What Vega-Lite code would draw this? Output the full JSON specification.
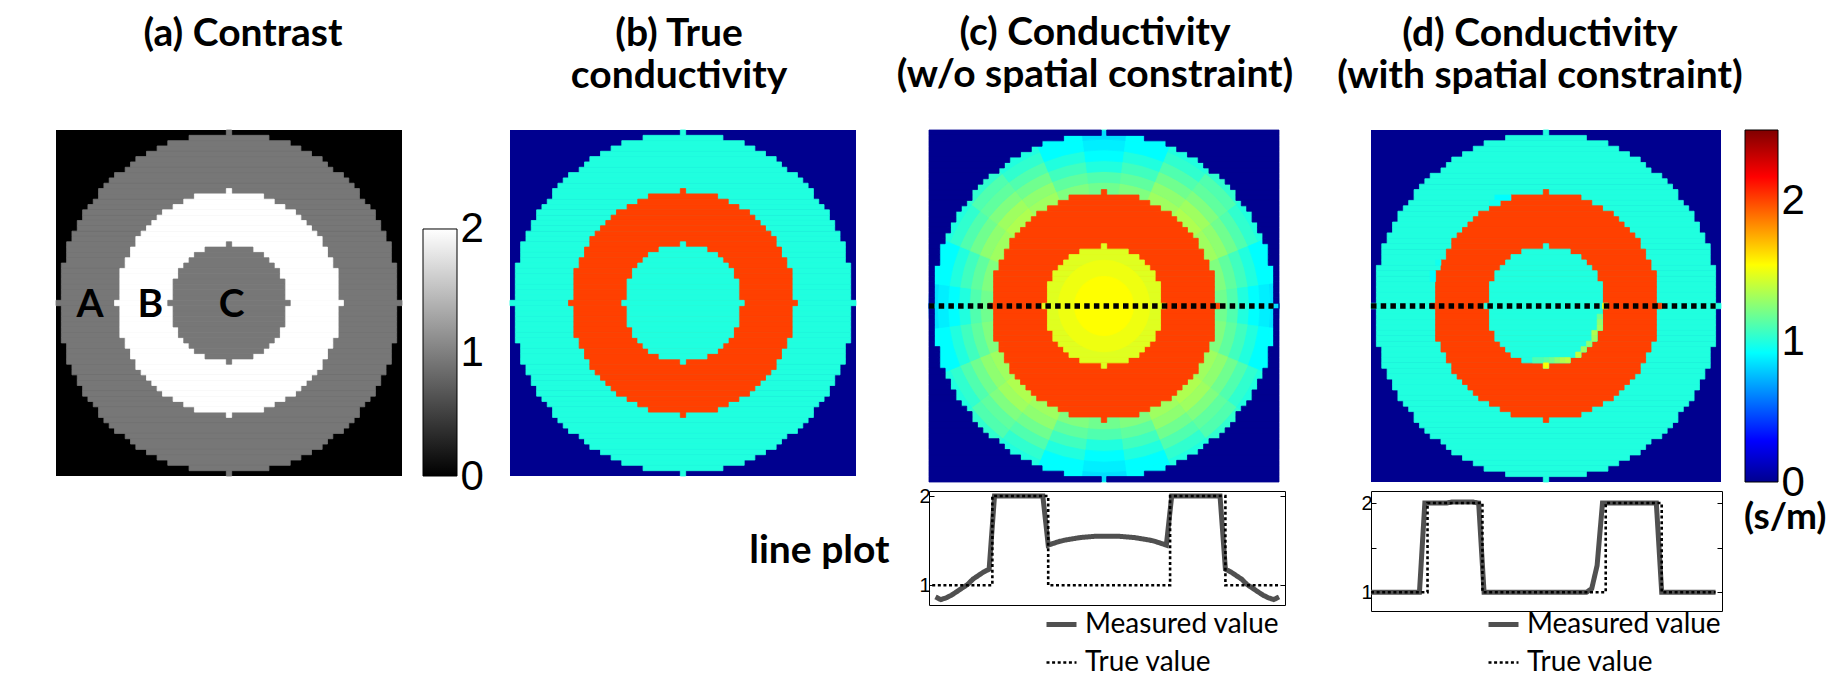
{
"$schema":"https://vega.github.io/schema/vega-lite/v6.json",
"background":"white",
"padding":{"left":55,"top":14,"right":5,"bottom":5},
"columns":6,"align":"each","bounds":"flush","spacing":{"row":9,"column":0},
"resolve":{"scale":{"color":"independent","stroke":"independent","strokeDash":"independent","strokeWidth":"independent"},"legend":{"color":"independent","strokeDash":"independent","strokeWidth":"independent"}},
"datasets":{
"bg":[{"x0":-32.5,"x1":32.5}],
"dline":[{"x0":-32.5,"x1":31.5,"y":0}],
"labels":[{"t":"A","x":-26.1,"y":0},{"t":"B","x":-14.8,"y":0},{"t":"C","x":0.5,"y":0}],
"cbg":[{"lo":0,"hi":2}],
"cbj":[{"lo":0,"hi":2.5}],
"anom":[{"x0":10.5,"x1":11.5,"y":0,"v":1.55},{"x0":9.5,"x1":10.5,"y":2,"v":1.2},{"x0":9.5,"x1":10.5,"y":3,"v":1.25},{"x0":9.5,"x1":10.5,"y":4,"v":1.3},{"x0":8.5,"x1":9.5,"y":5,"v":1.35},{"x0":8.5,"x1":9.5,"y":6,"v":1.3},{"x0":7.5,"x1":8.5,"y":7,"v":1.25},{"x0":6.5,"x1":7.5,"y":8,"v":1.3},{"x0":5.5,"x1":6.5,"y":9,"v":1.4},{"x0":3.5,"x1":4.5,"y":10,"v":1.4},{"x0":2.5,"x1":3.5,"y":10,"v":1.35},{"x0":1.5,"x1":2.5,"y":10,"v":1.25},{"x0":0.5,"x1":1.5,"y":10,"v":1.2},{"x0":-0.5,"x1":0.5,"y":10,"v":1.15},{"x0":-2.5,"x1":-0.5,"y":10,"v":1.1},{"x0":-0.5,"x1":0.5,"y":11,"v":1.55},{"x0":-9.5,"x1":-6.5,"y":-20,"v":0.92},{"x0":-10.5,"x1":-8.5,"y":-19,"v":0.95},{"x0":-21.5,"x1":-20.5,"y":-6,"v":0.92},{"x0":-21.5,"x1":-20.5,"y":-5,"v":0.92},{"x0":-20.5,"x1":-19.5,"y":-8,"v":0.95}],
"discs":[
{"g":"A","y":-32,"a":-0.5,"b":0.5,"v":1},{"g":"A","y":-31,"a":-7.5,"b":7.5,"v":1},{"g":"A","y":-30,"a":-11.5,"b":11.5,"v":1},{"g":"A","y":-29,"a":-13.5,"b":13.5,"v":1},{"g":"A","y":-28,"a":-15.5,"b":15.5,"v":1},{"g":"A","y":-27,"a":-17.5,"b":17.5,"v":1},{"g":"A","y":-26,"a":-18.5,"b":18.5,"v":1},{"g":"A","y":-25,"a":-19.5,"b":19.5,"v":1},{"g":"A","y":-24,"a":-21.5,"b":21.5,"v":1},{"g":"A","y":-23,"a":-22.5,"b":22.5,"v":1},{"g":"A","y":-22,"a":-23.5,"b":23.5,"v":1},{"g":"A","y":-21,"a":-24.5,"b":24.5,"v":1},{"g":"A","y":-20,"a":-24.5,"b":24.5,"v":1},{"g":"A","y":-19,"a":-25.5,"b":25.5,"v":1},{"g":"A","y":-18,"a":-26.5,"b":26.5,"v":1},{"g":"A","y":-17,"a":-27.5,"b":27.5,"v":1},{"g":"A","y":-16,"a":-27.5,"b":27.5,"v":1},{"g":"A","y":-15,"a":-28.5,"b":28.5,"v":1},{"g":"A","y":-14,"a":-28.5,"b":28.5,"v":1},{"g":"A","y":-13,"a":-29.5,"b":29.5,"v":1},{"g":"A","y":-12,"a":-29.5,"b":29.5,"v":1},{"g":"A","y":-11,"a":-30.5,"b":30.5,"v":1},{"g":"A","y":-10,"a":-30.5,"b":30.5,"v":1},{"g":"A","y":-9,"a":-30.5,"b":30.5,"v":1},{"g":"A","y":-8,"a":-30.5,"b":30.5,"v":1},{"g":"A","y":-7,"a":-31.5,"b":31.5,"v":1},{"g":"A","y":-6,"a":-31.5,"b":31.5,"v":1},{"g":"A","y":-5,"a":-31.5,"b":31.5,"v":1},{"g":"A","y":-4,"a":-31.5,"b":31.5,"v":1},{"g":"A","y":-3,"a":-31.5,"b":31.5,"v":1},{"g":"A","y":-2,"a":-31.5,"b":31.5,"v":1},{"g":"A","y":-1,"a":-31.5,"b":31.5,"v":1},{"g":"A","y":0,"a":-32.5,"b":32.5,"v":1},{"g":"A","y":1,"a":-31.5,"b":31.5,"v":1},{"g":"A","y":2,"a":-31.5,"b":31.5,"v":1},{"g":"A","y":3,"a":-31.5,"b":31.5,"v":1},{"g":"A","y":4,"a":-31.5,"b":31.5,"v":1},{"g":"A","y":5,"a":-31.5,"b":31.5,"v":1},{"g":"A","y":6,"a":-31.5,"b":31.5,"v":1},{"g":"A","y":7,"a":-31.5,"b":31.5,"v":1},{"g":"A","y":8,"a":-30.5,"b":30.5,"v":1},{"g":"A","y":9,"a":-30.5,"b":30.5,"v":1},{"g":"A","y":10,"a":-30.5,"b":30.5,"v":1},{"g":"A","y":11,"a":-30.5,"b":30.5,"v":1},{"g":"A","y":12,"a":-29.5,"b":29.5,"v":1},{"g":"A","y":13,"a":-29.5,"b":29.5,"v":1},{"g":"A","y":14,"a":-28.5,"b":28.5,"v":1},{"g":"A","y":15,"a":-28.5,"b":28.5,"v":1},{"g":"A","y":16,"a":-27.5,"b":27.5,"v":1},{"g":"A","y":17,"a":-27.5,"b":27.5,"v":1},{"g":"A","y":18,"a":-26.5,"b":26.5,"v":1},{"g":"A","y":19,"a":-25.5,"b":25.5,"v":1},{"g":"A","y":20,"a":-24.5,"b":24.5,"v":1},{"g":"A","y":21,"a":-24.5,"b":24.5,"v":1},{"g":"A","y":22,"a":-23.5,"b":23.5,"v":1},{"g":"A","y":23,"a":-22.5,"b":22.5,"v":1},{"g":"A","y":24,"a":-21.5,"b":21.5,"v":1},{"g":"A","y":25,"a":-19.5,"b":19.5,"v":1},{"g":"A","y":26,"a":-18.5,"b":18.5,"v":1},{"g":"A","y":27,"a":-17.5,"b":17.5,"v":1},{"g":"A","y":28,"a":-15.5,"b":15.5,"v":1},{"g":"A","y":29,"a":-13.5,"b":13.5,"v":1},{"g":"A","y":30,"a":-11.5,"b":11.5,"v":1},{"g":"A","y":31,"a":-7.5,"b":7.5,"v":1},{"g":"A","y":32,"a":-0.5,"b":0.5,"v":1},
{"g":"B","y":-21,"a":-0.5,"b":0.5,"v":2},{"g":"B","y":-20,"a":-6.5,"b":6.5,"v":2},{"g":"B","y":-19,"a":-8.5,"b":8.5,"v":2},{"g":"B","y":-18,"a":-10.5,"b":10.5,"v":2},{"g":"B","y":-17,"a":-12.5,"b":12.5,"v":2},{"g":"B","y":-16,"a":-13.5,"b":13.5,"v":2},{"g":"B","y":-15,"a":-14.5,"b":14.5,"v":2},{"g":"B","y":-14,"a":-15.5,"b":15.5,"v":2},{"g":"B","y":-13,"a":-16.5,"b":16.5,"v":2},{"g":"B","y":-12,"a":-17.5,"b":17.5,"v":2},{"g":"B","y":-11,"a":-17.5,"b":17.5,"v":2},{"g":"B","y":-10,"a":-18.5,"b":18.5,"v":2},{"g":"B","y":-9,"a":-18.5,"b":18.5,"v":2},{"g":"B","y":-8,"a":-19.5,"b":19.5,"v":2},{"g":"B","y":-7,"a":-19.5,"b":19.5,"v":2},{"g":"B","y":-6,"a":-20.5,"b":20.5,"v":2},{"g":"B","y":-5,"a":-20.5,"b":20.5,"v":2},{"g":"B","y":-4,"a":-20.5,"b":20.5,"v":2},{"g":"B","y":-3,"a":-20.5,"b":20.5,"v":2},{"g":"B","y":-2,"a":-20.5,"b":20.5,"v":2},{"g":"B","y":-1,"a":-20.5,"b":20.5,"v":2},{"g":"B","y":0,"a":-21.5,"b":21.5,"v":2},{"g":"B","y":1,"a":-20.5,"b":20.5,"v":2},{"g":"B","y":2,"a":-20.5,"b":20.5,"v":2},{"g":"B","y":3,"a":-20.5,"b":20.5,"v":2},{"g":"B","y":4,"a":-20.5,"b":20.5,"v":2},{"g":"B","y":5,"a":-20.5,"b":20.5,"v":2},{"g":"B","y":6,"a":-20.5,"b":20.5,"v":2},{"g":"B","y":7,"a":-19.5,"b":19.5,"v":2},{"g":"B","y":8,"a":-19.5,"b":19.5,"v":2},{"g":"B","y":9,"a":-18.5,"b":18.5,"v":2},{"g":"B","y":10,"a":-18.5,"b":18.5,"v":2},{"g":"B","y":11,"a":-17.5,"b":17.5,"v":2},{"g":"B","y":12,"a":-17.5,"b":17.5,"v":2},{"g":"B","y":13,"a":-16.5,"b":16.5,"v":2},{"g":"B","y":14,"a":-15.5,"b":15.5,"v":2},{"g":"B","y":15,"a":-14.5,"b":14.5,"v":2},{"g":"B","y":16,"a":-13.5,"b":13.5,"v":2},{"g":"B","y":17,"a":-12.5,"b":12.5,"v":2},{"g":"B","y":18,"a":-10.5,"b":10.5,"v":2},{"g":"B","y":19,"a":-8.5,"b":8.5,"v":2},{"g":"B","y":20,"a":-6.5,"b":6.5,"v":2},{"g":"B","y":21,"a":-0.5,"b":0.5,"v":2},
{"g":"C","y":-11,"a":-0.5,"b":0.5,"v":1},{"g":"C","y":-10,"a":-4.5,"b":4.5,"v":1},{"g":"C","y":-9,"a":-6.5,"b":6.5,"v":1},{"g":"C","y":-8,"a":-7.5,"b":7.5,"v":1},{"g":"C","y":-7,"a":-8.5,"b":8.5,"v":1},{"g":"C","y":-6,"a":-9.5,"b":9.5,"v":1},{"g":"C","y":-5,"a":-9.5,"b":9.5,"v":1},{"g":"C","y":-4,"a":-10.5,"b":10.5,"v":1},{"g":"C","y":-3,"a":-10.5,"b":10.5,"v":1},{"g":"C","y":-2,"a":-10.5,"b":10.5,"v":1},{"g":"C","y":-1,"a":-10.5,"b":10.5,"v":1},{"g":"C","y":0,"a":-11.5,"b":11.5,"v":1},{"g":"C","y":1,"a":-10.5,"b":10.5,"v":1},{"g":"C","y":2,"a":-10.5,"b":10.5,"v":1},{"g":"C","y":3,"a":-10.5,"b":10.5,"v":1},{"g":"C","y":4,"a":-10.5,"b":10.5,"v":1},{"g":"C","y":5,"a":-9.5,"b":9.5,"v":1},{"g":"C","y":6,"a":-9.5,"b":9.5,"v":1},{"g":"C","y":7,"a":-8.5,"b":8.5,"v":1},{"g":"C","y":8,"a":-7.5,"b":7.5,"v":1},{"g":"C","y":9,"a":-6.5,"b":6.5,"v":1},{"g":"C","y":10,"a":-4.5,"b":4.5,"v":1},{"g":"C","y":11,"a":-0.5,"b":0.5,"v":1}
],
"arcsA":[
{"t0":-7.5,"t1":7.5,"r0":20,"r1":23,"v":1.18},{"t0":7.5,"t1":22.5,"r0":20,"r1":23,"v":1.23},{"t0":22.5,"t1":37.5,"r0":20,"r1":23,"v":1.32},{"t0":37.5,"t1":52.5,"r0":20,"r1":23,"v":1.36},{"t0":52.5,"t1":67.5,"r0":20,"r1":23,"v":1.32},{"t0":67.5,"t1":82.5,"r0":20,"r1":23,"v":1.23},{"t0":82.5,"t1":97.5,"r0":20,"r1":23,"v":1.18},{"t0":97.5,"t1":112.5,"r0":20,"r1":23,"v":1.23},{"t0":112.5,"t1":127.5,"r0":20,"r1":23,"v":1.32},{"t0":127.5,"t1":142.5,"r0":20,"r1":23,"v":1.36},{"t0":142.5,"t1":157.5,"r0":20,"r1":23,"v":1.32},{"t0":157.5,"t1":172.5,"r0":20,"r1":23,"v":1.23},{"t0":172.5,"t1":187.5,"r0":20,"r1":23,"v":1.18},{"t0":187.5,"t1":202.5,"r0":20,"r1":23,"v":1.23},{"t0":202.5,"t1":217.5,"r0":20,"r1":23,"v":1.32},{"t0":217.5,"t1":232.5,"r0":20,"r1":23,"v":1.36},{"t0":232.5,"t1":247.5,"r0":20,"r1":23,"v":1.32},{"t0":247.5,"t1":262.5,"r0":20,"r1":23,"v":1.23},{"t0":262.5,"t1":277.5,"r0":20,"r1":23,"v":1.18},{"t0":277.5,"t1":292.5,"r0":20,"r1":23,"v":1.23},{"t0":292.5,"t1":307.5,"r0":20,"r1":23,"v":1.32},{"t0":307.5,"t1":322.5,"r0":20,"r1":23,"v":1.36},{"t0":322.5,"t1":337.5,"r0":20,"r1":23,"v":1.32},{"t0":337.5,"t1":352.5,"r0":20,"r1":23,"v":1.23},
{"t0":-7.5,"t1":7.5,"r0":23,"r1":25,"v":1.11},{"t0":7.5,"t1":22.5,"r0":23,"r1":25,"v":1.16},{"t0":22.5,"t1":37.5,"r0":23,"r1":25,"v":1.26},{"t0":37.5,"t1":52.5,"r0":23,"r1":25,"v":1.31},{"t0":52.5,"t1":67.5,"r0":23,"r1":25,"v":1.26},{"t0":67.5,"t1":82.5,"r0":23,"r1":25,"v":1.16},{"t0":82.5,"t1":97.5,"r0":23,"r1":25,"v":1.11},{"t0":97.5,"t1":112.5,"r0":23,"r1":25,"v":1.16},{"t0":112.5,"t1":127.5,"r0":23,"r1":25,"v":1.26},{"t0":127.5,"t1":142.5,"r0":23,"r1":25,"v":1.31},{"t0":142.5,"t1":157.5,"r0":23,"r1":25,"v":1.26},{"t0":157.5,"t1":172.5,"r0":23,"r1":25,"v":1.16},{"t0":172.5,"t1":187.5,"r0":23,"r1":25,"v":1.11},{"t0":187.5,"t1":202.5,"r0":23,"r1":25,"v":1.16},{"t0":202.5,"t1":217.5,"r0":23,"r1":25,"v":1.26},{"t0":217.5,"t1":232.5,"r0":23,"r1":25,"v":1.31},{"t0":232.5,"t1":247.5,"r0":23,"r1":25,"v":1.26},{"t0":247.5,"t1":262.5,"r0":23,"r1":25,"v":1.16},{"t0":262.5,"t1":277.5,"r0":23,"r1":25,"v":1.11},{"t0":277.5,"t1":292.5,"r0":23,"r1":25,"v":1.16},{"t0":292.5,"t1":307.5,"r0":23,"r1":25,"v":1.26},{"t0":307.5,"t1":322.5,"r0":23,"r1":25,"v":1.31},{"t0":322.5,"t1":337.5,"r0":23,"r1":25,"v":1.26},{"t0":337.5,"t1":352.5,"r0":23,"r1":25,"v":1.16},
{"t0":-7.5,"t1":7.5,"r0":25,"r1":27,"v":1.01},{"t0":7.5,"t1":22.5,"r0":25,"r1":27,"v":1.07},{"t0":22.5,"t1":37.5,"r0":25,"r1":27,"v":1.18},{"t0":37.5,"t1":52.5,"r0":25,"r1":27,"v":1.24},{"t0":52.5,"t1":67.5,"r0":25,"r1":27,"v":1.18},{"t0":67.5,"t1":82.5,"r0":25,"r1":27,"v":1.07},{"t0":82.5,"t1":97.5,"r0":25,"r1":27,"v":1.01},{"t0":97.5,"t1":112.5,"r0":25,"r1":27,"v":1.07},{"t0":112.5,"t1":127.5,"r0":25,"r1":27,"v":1.18},{"t0":127.5,"t1":142.5,"r0":25,"r1":27,"v":1.24},{"t0":142.5,"t1":157.5,"r0":25,"r1":27,"v":1.18},{"t0":157.5,"t1":172.5,"r0":25,"r1":27,"v":1.07},{"t0":172.5,"t1":187.5,"r0":25,"r1":27,"v":1.01},{"t0":187.5,"t1":202.5,"r0":25,"r1":27,"v":1.07},{"t0":202.5,"t1":217.5,"r0":25,"r1":27,"v":1.18},{"t0":217.5,"t1":232.5,"r0":25,"r1":27,"v":1.24},{"t0":232.5,"t1":247.5,"r0":25,"r1":27,"v":1.18},{"t0":247.5,"t1":262.5,"r0":25,"r1":27,"v":1.07},{"t0":262.5,"t1":277.5,"r0":25,"r1":27,"v":1.01},{"t0":277.5,"t1":292.5,"r0":25,"r1":27,"v":1.07},{"t0":292.5,"t1":307.5,"r0":25,"r1":27,"v":1.18},{"t0":307.5,"t1":322.5,"r0":25,"r1":27,"v":1.24},{"t0":322.5,"t1":337.5,"r0":25,"r1":27,"v":1.18},{"t0":337.5,"t1":352.5,"r0":25,"r1":27,"v":1.07},
{"t0":-7.5,"t1":7.5,"r0":27,"r1":29,"v":0.93},{"t0":7.5,"t1":22.5,"r0":27,"r1":29,"v":0.99},{"t0":22.5,"t1":37.5,"r0":27,"r1":29,"v":1.11},{"t0":37.5,"t1":52.5,"r0":27,"r1":29,"v":1.17},{"t0":52.5,"t1":67.5,"r0":27,"r1":29,"v":1.11},{"t0":67.5,"t1":82.5,"r0":27,"r1":29,"v":0.99},{"t0":82.5,"t1":97.5,"r0":27,"r1":29,"v":0.93},{"t0":97.5,"t1":112.5,"r0":27,"r1":29,"v":0.99},{"t0":112.5,"t1":127.5,"r0":27,"r1":29,"v":1.11},{"t0":127.5,"t1":142.5,"r0":27,"r1":29,"v":1.17},{"t0":142.5,"t1":157.5,"r0":27,"r1":29,"v":1.11},{"t0":157.5,"t1":172.5,"r0":27,"r1":29,"v":0.99},{"t0":172.5,"t1":187.5,"r0":27,"r1":29,"v":0.93},{"t0":187.5,"t1":202.5,"r0":27,"r1":29,"v":0.99},{"t0":202.5,"t1":217.5,"r0":27,"r1":29,"v":1.11},{"t0":217.5,"t1":232.5,"r0":27,"r1":29,"v":1.17},{"t0":232.5,"t1":247.5,"r0":27,"r1":29,"v":1.11},{"t0":247.5,"t1":262.5,"r0":27,"r1":29,"v":0.99},{"t0":262.5,"t1":277.5,"r0":27,"r1":29,"v":0.93},{"t0":277.5,"t1":292.5,"r0":27,"r1":29,"v":0.99},{"t0":292.5,"t1":307.5,"r0":27,"r1":29,"v":1.11},{"t0":307.5,"t1":322.5,"r0":27,"r1":29,"v":1.17},{"t0":322.5,"t1":337.5,"r0":27,"r1":29,"v":1.11},{"t0":337.5,"t1":352.5,"r0":27,"r1":29,"v":0.99},
{"t0":-7.5,"t1":7.5,"r0":29,"r1":31,"v":0.86},{"t0":7.5,"t1":22.5,"r0":29,"r1":31,"v":0.92},{"t0":22.5,"t1":37.5,"r0":29,"r1":31,"v":1.04},{"t0":37.5,"t1":52.5,"r0":29,"r1":31,"v":1.1},{"t0":52.5,"t1":67.5,"r0":29,"r1":31,"v":1.04},{"t0":67.5,"t1":82.5,"r0":29,"r1":31,"v":0.92},{"t0":82.5,"t1":97.5,"r0":29,"r1":31,"v":0.86},{"t0":97.5,"t1":112.5,"r0":29,"r1":31,"v":0.92},{"t0":112.5,"t1":127.5,"r0":29,"r1":31,"v":1.04},{"t0":127.5,"t1":142.5,"r0":29,"r1":31,"v":1.1},{"t0":142.5,"t1":157.5,"r0":29,"r1":31,"v":1.04},{"t0":157.5,"t1":172.5,"r0":29,"r1":31,"v":0.92},{"t0":172.5,"t1":187.5,"r0":29,"r1":31,"v":0.86},{"t0":187.5,"t1":202.5,"r0":29,"r1":31,"v":0.92},{"t0":202.5,"t1":217.5,"r0":29,"r1":31,"v":1.04},{"t0":217.5,"t1":232.5,"r0":29,"r1":31,"v":1.1},{"t0":232.5,"t1":247.5,"r0":29,"r1":31,"v":1.04},{"t0":247.5,"t1":262.5,"r0":29,"r1":31,"v":0.92},{"t0":262.5,"t1":277.5,"r0":29,"r1":31,"v":0.86},{"t0":277.5,"t1":292.5,"r0":29,"r1":31,"v":0.92},{"t0":292.5,"t1":307.5,"r0":29,"r1":31,"v":1.04},{"t0":307.5,"t1":322.5,"r0":29,"r1":31,"v":1.1},{"t0":322.5,"t1":337.5,"r0":29,"r1":31,"v":1.04},{"t0":337.5,"t1":352.5,"r0":29,"r1":31,"v":0.92},
{"t0":-7.5,"t1":7.5,"r0":31,"r1":32.5,"v":0.85},{"t0":7.5,"t1":22.5,"r0":31,"r1":32.5,"v":0.9},{"t0":22.5,"t1":37.5,"r0":31,"r1":32.5,"v":1.0},{"t0":37.5,"t1":52.5,"r0":31,"r1":32.5,"v":1.05},{"t0":52.5,"t1":67.5,"r0":31,"r1":32.5,"v":1.0},{"t0":67.5,"t1":82.5,"r0":31,"r1":32.5,"v":0.9},{"t0":82.5,"t1":97.5,"r0":31,"r1":32.5,"v":0.85},{"t0":97.5,"t1":112.5,"r0":31,"r1":32.5,"v":0.9},{"t0":112.5,"t1":127.5,"r0":31,"r1":32.5,"v":1.0},{"t0":127.5,"t1":142.5,"r0":31,"r1":32.5,"v":1.05},{"t0":142.5,"t1":157.5,"r0":31,"r1":32.5,"v":1.0},{"t0":157.5,"t1":172.5,"r0":31,"r1":32.5,"v":0.9},{"t0":172.5,"t1":187.5,"r0":31,"r1":32.5,"v":0.85},{"t0":187.5,"t1":202.5,"r0":31,"r1":32.5,"v":0.9},{"t0":202.5,"t1":217.5,"r0":31,"r1":32.5,"v":1.0},{"t0":217.5,"t1":232.5,"r0":31,"r1":32.5,"v":1.05},{"t0":232.5,"t1":247.5,"r0":31,"r1":32.5,"v":1.0},{"t0":247.5,"t1":262.5,"r0":31,"r1":32.5,"v":0.9},{"t0":262.5,"t1":277.5,"r0":31,"r1":32.5,"v":0.85},{"t0":277.5,"t1":292.5,"r0":31,"r1":32.5,"v":0.9},{"t0":292.5,"t1":307.5,"r0":31,"r1":32.5,"v":1.0},{"t0":307.5,"t1":322.5,"r0":31,"r1":32.5,"v":1.05},{"t0":322.5,"t1":337.5,"r0":31,"r1":32.5,"v":1.0},{"t0":337.5,"t1":352.5,"r0":31,"r1":32.5,"v":0.9}
],
"arcsC":[{"t0":0,"t1":360,"r0":5.5,"r1":8.5,"v":1.51},{"t0":0,"t1":360,"r0":0,"r1":5.5,"v":1.54}],
"mc":[{"x":0,"y":0.87},{"x":1,"y":0.84},{"x":2,"y":0.86},{"x":3,"y":0.89},{"x":4,"y":0.93},{"x":5,"y":0.97},{"x":6,"y":1.01},{"x":7,"y":1.07},{"x":8,"y":1.11},{"x":9,"y":1.15},{"x":10,"y":1.18},{"x":11,"y":2},{"x":12,"y":2},{"x":13,"y":2},{"x":14,"y":2},{"x":15,"y":2},{"x":16,"y":2},{"x":17,"y":2},{"x":18,"y":2},{"x":19,"y":2},{"x":20,"y":2},{"x":21,"y":1.45},{"x":22,"y":1.47},{"x":23,"y":1.49},{"x":24,"y":1.505},{"x":25,"y":1.515},{"x":26,"y":1.525},{"x":27,"y":1.535},{"x":28,"y":1.54},{"x":29,"y":1.545},{"x":30,"y":1.55},{"x":31,"y":1.55},{"x":32,"y":1.55},{"x":33,"y":1.55},{"x":34,"y":1.55},{"x":35,"y":1.545},{"x":36,"y":1.54},{"x":37,"y":1.535},{"x":38,"y":1.525},{"x":39,"y":1.515},{"x":40,"y":1.505},{"x":41,"y":1.49},{"x":42,"y":1.47},{"x":43,"y":1.45},{"x":44,"y":2},{"x":45,"y":2},{"x":46,"y":2},{"x":47,"y":2},{"x":48,"y":2},{"x":49,"y":2},{"x":50,"y":2},{"x":51,"y":2},{"x":52,"y":2},{"x":53,"y":2},{"x":54,"y":1.18},{"x":55,"y":1.15},{"x":56,"y":1.11},{"x":57,"y":1.07},{"x":58,"y":1.01},{"x":59,"y":0.97},{"x":60,"y":0.93},{"x":61,"y":0.89},{"x":62,"y":0.86},{"x":63,"y":0.84},{"x":64,"y":0.87}],
"tc":[{"x":-0.6,"y":1},{"x":10.6,"y":1},{"x":10.6,"y":2},{"x":21,"y":2},{"x":21,"y":1},{"x":43.7,"y":1},{"x":43.7,"y":2},{"x":54,"y":2},{"x":54,"y":1},{"x":64.3,"y":1}],
"md":[{"x":0,"y":1},{"x":1,"y":1},{"x":2,"y":1},{"x":3,"y":1},{"x":4,"y":1},{"x":5,"y":1},{"x":6,"y":1},{"x":7,"y":1},{"x":8,"y":1},{"x":9,"y":1},{"x":10,"y":2},{"x":11,"y":2},{"x":12,"y":2},{"x":13,"y":2},{"x":14,"y":2},{"x":15,"y":2.01},{"x":16,"y":2.01},{"x":17,"y":2.01},{"x":18,"y":2.01},{"x":19,"y":2.01},{"x":20,"y":2},{"x":21,"y":1},{"x":22,"y":1},{"x":23,"y":1},{"x":24,"y":1},{"x":25,"y":1},{"x":26,"y":1},{"x":27,"y":1},{"x":28,"y":1},{"x":29,"y":1},{"x":30,"y":1},{"x":31,"y":1},{"x":32,"y":1},{"x":33,"y":1},{"x":34,"y":1},{"x":35,"y":1},{"x":36,"y":1},{"x":37,"y":1},{"x":38,"y":1},{"x":39,"y":1},{"x":40,"y":1},{"x":41,"y":1.04},{"x":42,"y":1.3},{"x":43,"y":2},{"x":44,"y":2},{"x":45,"y":2},{"x":46,"y":2},{"x":47,"y":2},{"x":48,"y":2},{"x":49,"y":2},{"x":50,"y":2},{"x":51,"y":2},{"x":52,"y":2},{"x":53,"y":2},{"x":54,"y":1},{"x":55,"y":1},{"x":56,"y":1},{"x":57,"y":1},{"x":58,"y":1},{"x":59,"y":1},{"x":60,"y":1},{"x":61,"y":1},{"x":62,"y":1},{"x":63,"y":1},{"x":64,"y":1}],
"td":[{"x":0,"y":1},{"x":10.5,"y":1},{"x":10.5,"y":2},{"x":20.7,"y":2},{"x":20.7,"y":1},{"x":43.6,"y":1},{"x":43.6,"y":2},{"x":54,"y":2},{"x":54,"y":1},{"x":64,"y":1}]
},
"concat":[
{"width":367,"height":346,"title":{"text":["(a) Contrast",""],"dx":3.5},
 "layer":[
 {"data":{"name":"bg"},"mark":{"type":"rect","fill":"#000000"},"encoding":{"x":{"field":"x0","type":"quantitative","scale":{"domain":[-32.5,36.444],"nice":false,"zero":false},"axis":null},"x2":{"field":"x1"}}},
 {"data":{"name":"discs"},"mark":{"type":"rect","strokeWidth":0.8},"encoding":{"x":{"field":"a","type":"quantitative"},"x2":{"field":"b"},"y":{"field":"y","type":"ordinal","scale":{"domain":[-32,-31,-30,-29,-28,-27,-26,-25,-24,-23,-22,-21,-20,-19,-18,-17,-16,-15,-14,-13,-12,-11,-10,-9,-8,-7,-6,-5,-4,-3,-2,-1,0,1,2,3,4,5,6,7,8,9,10,11,12,13,14,15,16,17,18,19,20,21,22,23,24,25,26,27,28,29,30,31,32],"paddingInner":0,"paddingOuter":0},"axis":null},"color":{"field":"v","type":"quantitative","scale":{"domain":[0,2],"range":["#000000","#ffffff"]},"legend":null},"stroke":{"field":"v","type":"quantitative","scale":{"domain":[0,2],"range":["#000000","#ffffff"]},"legend":null}}},
 {"data":{"name":"labels"},"mark":{"type":"text","font":"Lato","fontWeight":"bold","fontSize":39,"color":"black","dy":2},"encoding":{"x":{"field":"x","type":"quantitative"},"y":{"field":"y","type":"ordinal","bandPosition":0.5,"axis":null},"text":{"field":"t"}}}
 ]},
{"width":34,"height":346,"data":{"name":"cbg"},
 "mark":{"type":"rect","fill":{"gradient":"linear","x1":0,"y1":1,"x2":0,"y2":0,"stops":[{"offset":0,"color":"#000000"},{"offset":1,"color":"#ffffff"}]},"stroke":"black","strokeWidth":1},
 "encoding":{"y":{"field":"lo","type":"quantitative","scale":{"domain":[0,2.8016],"nice":false,"zero":false},"axis":{"orient":"right","values":[0,1,2],"labelFontSize":42,"labelPadding":3,"ticks":false,"title":null}},"y2":{"field":"hi"}}},
{"width":472,"height":346,"title":{"text":["(b) True","conductivity"],"dx":-14},
 "layer":[
 {"data":{"name":"bg"},"mark":{"type":"rect","fill":"#00008F"},"encoding":{"x":{"field":"x0","type":"quantitative","scale":{"domain":[-42.4566,46.2139],"nice":false,"zero":false},"axis":null},"x2":{"field":"x1"}}},
 {"data":{"name":"discs"},"mark":{"type":"rect","strokeWidth":0.8},"encoding":{"x":{"field":"a","type":"quantitative"},"x2":{"field":"b"},"y":{"field":"y","type":"ordinal","scale":{"domain":[-32,-31,-30,-29,-28,-27,-26,-25,-24,-23,-22,-21,-20,-19,-18,-17,-16,-15,-14,-13,-12,-11,-10,-9,-8,-7,-6,-5,-4,-3,-2,-1,0,1,2,3,4,5,6,7,8,9,10,11,12,13,14,15,16,17,18,19,20,21,22,23,24,25,26,27,28,29,30,31,32],"paddingInner":0,"paddingOuter":0},"axis":null},"color":{"field":"v","type":"quantitative","scale":{"type":"quantize","domain":[0,2.5],"range":"heatmap","nice":false},"legend":null},"stroke":{"field":"v","type":"quantitative","scale":{"type":"quantize","domain":[0,2.5],"range":"heatmap","nice":false},"legend":null}}}
 ]},
{"width":442,"height":352,"title":{"text":["(c) Conductivity","(w/o spatial constraint)"],"dx":-55},
 "resolve":{"scale":{"color":"shared","stroke":"shared"}},
 "layer":[
 {"data":{"name":"bg"},"mark":{"type":"rect","fill":"#00008F"},"encoding":{"x":{"field":"x0","type":"quantitative","scale":{"domain":[-32.5,49.586],"nice":false,"zero":false},"axis":null},"x2":{"field":"x1"}}},
 {"data":{"name":"discs"},"transform":[{"filter":"datum.g == 'A'"}],"mark":{"type":"rect","strokeWidth":0.8},"encoding":{"x":{"field":"a","type":"quantitative"},"x2":{"field":"b"},"y":{"field":"y","type":"ordinal","scale":{"domain":[-32,-31,-30,-29,-28,-27,-26,-25,-24,-23,-22,-21,-20,-19,-18,-17,-16,-15,-14,-13,-12,-11,-10,-9,-8,-7,-6,-5,-4,-3,-2,-1,0,1,2,3,4,5,6,7,8,9,10,11,12,13,14,15,16,17,18,19,20,21,22,23,24,25,26,27,28,29,30,31,32],"paddingInner":0,"paddingOuter":0},"axis":null},"color":{"field":"v","type":"quantitative","scale":{"type":"quantize","domain":[0,2.5],"range":"heatmap","nice":false},"legend":null},"stroke":{"field":"v","type":"quantitative","scale":{"type":"quantize","domain":[0,2.5],"range":"heatmap","nice":false},"legend":null}}},
 {"data":{"name":"arcsA"},"mark":{"type":"arc","strokeWidth":0.8},"encoding":{"x":{"datum":0,"type":"quantitative"},"theta":{"field":"t0","type":"quantitative","scale":{"domain":[0,360],"range":[0,6.283185307179586]},"stack":null},"theta2":{"field":"t1"},"radius":{"field":"r0","type":"quantitative","scale":{"type":"linear","domain":[0,32.5],"range":[0,175],"zero":true}},"radius2":{"field":"r1"},"color":{"field":"v","type":"quantitative","scale":{"type":"quantize","domain":[0,2.5],"range":"heatmap","nice":false},"legend":null},"stroke":{"field":"v","type":"quantitative","scale":{"type":"quantize","domain":[0,2.5],"range":"heatmap","nice":false},"legend":null}}},
 {"data":{"name":"discs"},"transform":[{"filter":"datum.g == 'A'"}],"mark":{"type":"rect","fill":"#00008F","stroke":"#00008F","strokeWidth":0.8},"encoding":{"x":{"field":"a","type":"quantitative"},"x2":{"datum":-32.5},"y":{"field":"y","type":"ordinal","axis":null}}},
 {"data":{"name":"discs"},"transform":[{"filter":"datum.g == 'A'"}],"mark":{"type":"rect","fill":"#00008F","stroke":"#00008F","strokeWidth":0.8},"encoding":{"x":{"field":"b","type":"quantitative"},"x2":{"datum":32.5},"y":{"field":"y","type":"ordinal","axis":null}}},
 {"data":{"name":"discs"},"transform":[{"filter":"datum.g == 'B'"}],"mark":{"type":"rect","strokeWidth":0.8},"encoding":{"x":{"field":"a","type":"quantitative"},"x2":{"field":"b"},"y":{"field":"y","type":"ordinal","axis":null},"color":{"field":"v","type":"quantitative","scale":{"type":"quantize","domain":[0,2.5],"range":"heatmap","nice":false},"legend":null},"stroke":{"field":"v","type":"quantitative","scale":{"type":"quantize","domain":[0,2.5],"range":"heatmap","nice":false},"legend":null}}},
 {"data":{"name":"discs"},"transform":[{"filter":"datum.g == 'C'"}],"mark":{"type":"rect","strokeWidth":0.8},"encoding":{"x":{"field":"a","type":"quantitative"},"x2":{"field":"b"},"y":{"field":"y","type":"ordinal","axis":null},"color":{"datum":1.45,"type":"quantitative","scale":{"type":"quantize","domain":[0,2.5],"range":"heatmap","nice":false},"legend":null},"stroke":{"datum":1.45,"type":"quantitative","scale":{"type":"quantize","domain":[0,2.5],"range":"heatmap","nice":false},"legend":null}}},
 {"data":{"name":"arcsC"},"mark":{"type":"arc","strokeWidth":0.8},"encoding":{"x":{"datum":0,"type":"quantitative"},"theta":{"field":"t0","type":"quantitative","stack":null},"theta2":{"field":"t1"},"radius":{"field":"r0","type":"quantitative"},"radius2":{"field":"r1"},"color":{"field":"v","type":"quantitative","scale":{"type":"quantize","domain":[0,2.5],"range":"heatmap","nice":false},"legend":null},"stroke":{"field":"v","type":"quantitative","scale":{"type":"quantize","domain":[0,2.5],"range":"heatmap","nice":false},"legend":null}}},
 {"data":{"name":"dline"},"mark":{"type":"rule","color":"black","strokeWidth":5.5,"strokeDash":[5.5,4.2]},"encoding":{"x":{"field":"x0","type":"quantitative"},"x2":{"field":"x1"},"y":{"field":"y","type":"ordinal","bandPosition":0.5,"axis":null}}}
 ]},
{"width":374,"height":352,"title":{"text":["(d) Conductivity","(with spatial constraint)"],"dx":-18},
 "resolve":{"scale":{"color":"shared","stroke":"shared"}},
 "layer":[
 {"data":{"name":"bg"},"mark":{"type":"rect","fill":"#00008F"},"encoding":{"x":{"field":"x0","type":"quantitative","scale":{"domain":[-32.5,36.957],"nice":false,"zero":false},"axis":null},"x2":{"field":"x1"}}},
 {"data":{"name":"discs"},"mark":{"type":"rect","strokeWidth":0.8},"encoding":{"x":{"field":"a","type":"quantitative"},"x2":{"field":"b"},"y":{"field":"y","type":"ordinal","scale":{"domain":[-32,-31,-30,-29,-28,-27,-26,-25,-24,-23,-22,-21,-20,-19,-18,-17,-16,-15,-14,-13,-12,-11,-10,-9,-8,-7,-6,-5,-4,-3,-2,-1,0,1,2,3,4,5,6,7,8,9,10,11,12,13,14,15,16,17,18,19,20,21,22,23,24,25,26,27,28,29,30,31,32],"paddingInner":0,"paddingOuter":0},"axis":null},"color":{"field":"v","type":"quantitative","scale":{"type":"quantize","domain":[0,2.5],"range":"heatmap","nice":false},"legend":null},"stroke":{"field":"v","type":"quantitative","scale":{"type":"quantize","domain":[0,2.5],"range":"heatmap","nice":false},"legend":null}}},
 {"data":{"name":"anom"},"mark":{"type":"rect","strokeWidth":0.6},"encoding":{"x":{"field":"x0","type":"quantitative"},"x2":{"field":"x1"},"y":{"field":"y","type":"ordinal","axis":null},"color":{"field":"v","type":"quantitative","scale":{"type":"quantize","domain":[0,2.5],"range":"heatmap","nice":false},"legend":null},"stroke":{"field":"v","type":"quantitative","scale":{"type":"quantize","domain":[0,2.5],"range":"heatmap","nice":false},"legend":null}}},
 {"data":{"name":"dline"},"mark":{"type":"rule","color":"black","strokeWidth":5.5,"strokeDash":[5.5,4.2]},"encoding":{"x":{"field":"x0","type":"quantitative"},"x2":{"field":"x1"},"y":{"field":"y","type":"ordinal","bandPosition":0.5,"axis":null}}}
 ]},
{"width":33,"height":352,"data":{"name":"cbj"},
 "title":{"text":"(s/m)","orient":"bottom","anchor":"start","frame":"group","offset":-3,"baseline":"top","fontSize":37,"dx":-1},
 "mark":{"type":"rect","fill":{"gradient":"linear","x1":0,"y1":1,"x2":0,"y2":0,"stops":[{"offset":0,"color":"#00008F"},{"offset":0.117,"color":"#0000FF"},{"offset":0.367,"color":"#00FFFF"},{"offset":0.617,"color":"#FFFF00"},{"offset":0.867,"color":"#FF0000"},{"offset":1,"color":"#800000"}]},"stroke":"black","strokeWidth":1},
 "encoding":{"y":{"field":"lo","type":"quantitative","scale":{"domain":[0,2.5],"nice":false,"zero":false},"axis":{"orient":"right","values":[0,1,2],"labelFontSize":42,"labelPadding":3,"ticks":false,"title":null}},"y2":{"field":"hi"}}},
{"width":1,"height":1,"data":{"values":[{"p":0}]},"mark":{"type":"rect","opacity":0},"encoding":{}},
{"width":1,"height":1,"data":{"values":[{"p":0}]},"mark":{"type":"rect","opacity":0},"encoding":{}},
{"width":1,"height":1,"data":{"values":[{"p":0}]},"mark":{"type":"rect","opacity":0},"encoding":{}},
{"width":356,"height":114,"view":{"stroke":"black","strokeWidth":1},
 "layer":[
 {"data":{"name":"mc"},"mark":{"type":"line"},"encoding":{"x":{"field":"x","type":"quantitative","scale":{"domain":[-1.2,65.1],"nice":false,"zero":false},"axis":null},"y":{"field":"y","type":"quantitative","scale":{"domain":[0.7794,2.056],"nice":false,"zero":false},"axis":{"values":[1,2],"format":"d","tickSize":-5,"tickColor":"black","labelPadding":4,"labelFontSize":20,"title":"line plot","titleAngle":0,"titleAlign":"right","titleBaseline":"alphabetic","titleX":-40,"titleY":71.7,"titleFont":"Lato","titleFontSize":39,"titleFontWeight":"bold","titleColor":"black"}},
  "color":{"datum":"Measured value","type":"nominal","scale":{"domain":["Measured value","True value"],"range":["#505050","#000000"]},"legend":{"title":null}},
  "strokeDash":{"datum":"Measured value","type":"nominal","scale":{"domain":["Measured value","True value"],"range":[[1,0],[3,2.6]]},"legend":{"title":null}},
  "strokeWidth":{"datum":"Measured value","type":"ordinal","scale":{"domain":["Measured value","True value"],"range":[5,2.6]},"legend":{"title":null}}}},
 {"data":{"name":"tc"},"mark":{"type":"line"},"encoding":{"x":{"field":"x","type":"quantitative"},"y":{"field":"y","type":"quantitative","axis":{"orient":"right","values":[1,2],"labels":false,"tickSize":-5,"tickColor":"black","title":null}},
  "color":{"datum":"True value","type":"nominal"},"strokeDash":{"datum":"True value","type":"nominal"},"strokeWidth":{"datum":"True value","type":"ordinal"}}}
 ],"resolve":{"axis":{"y":"independent"}}},
{"width":351,"height":120,"view":{"stroke":"black","strokeWidth":1},
 "layer":[
 {"data":{"name":"md"},"mark":{"type":"line"},"encoding":{"x":{"field":"x","type":"quantitative","scale":{"domain":[0,65.2],"nice":false,"zero":false},"axis":null},"y":{"field":"y","type":"quantitative","scale":{"domain":[0.7906,2.1344],"nice":false,"zero":false},"axis":{"values":[1,1.5,2],"labelExpr":"datum.value == 1.5 ? '' : format(datum.value, 'd')","tickSize":-5,"tickColor":"black","labelPadding":4,"labelFontSize":20,"title":null}},
  "color":{"datum":"Measured value","type":"nominal","scale":{"domain":["Measured value","True value"],"range":["#505050","#000000"]},"legend":{"title":null}},
  "strokeDash":{"datum":"Measured value","type":"nominal","scale":{"domain":["Measured value","True value"],"range":[[1,0],[3,2.6]]},"legend":{"title":null}},
  "strokeWidth":{"datum":"Measured value","type":"ordinal","scale":{"domain":["Measured value","True value"],"range":[5,2.6]},"legend":{"title":null}}}},
 {"data":{"name":"td"},"mark":{"type":"line"},"encoding":{"x":{"field":"x","type":"quantitative"},"y":{"field":"y","type":"quantitative","axis":{"orient":"right","values":[1,1.5,2],"labels":false,"tickSize":-5,"tickColor":"black","title":null}},
  "color":{"datum":"True value","type":"nominal"},"strokeDash":{"datum":"True value","type":"nominal"},"strokeWidth":{"datum":"True value","type":"ordinal"}}}
 ],"resolve":{"axis":{"y":"independent"}}},
{"width":1,"height":1,"data":{"values":[{"p":0}]},"mark":{"type":"rect","opacity":0},"encoding":{}}
],
"config":{
 "view":{"stroke":null},
 "font":"Lato",
 "range":{"heatmap":["#00008F","#00009F","#0000AF","#0000BF","#0000CF","#0000DF","#0000EF","#0000FF","#0010FF","#0020FF","#0030FF","#0040FF","#0050FF","#0060FF","#0070FF","#0080FF","#008FFF","#009FFF","#00AFFF","#00BFFF","#00CFFF","#00DFFF","#00EFFF","#00FFFF","#10FFEF","#20FFDF","#30FFCF","#40FFBF","#50FFAF","#60FF9F","#70FF8F","#80FF80","#8FFF70","#9FFF60","#AFFF50","#BFFF40","#CFFF30","#DFFF20","#EFFF10","#FFFF00","#FFEF00","#FFDF00","#FFCF00","#FFBF00","#FFAF00","#FF9F00","#FF8F00","#FF8000","#FF7000","#FF6000","#FF5000","#FF4000","#FF3000","#FF2000","#FF1000","#FF0000","#EF0000","#DF0000","#CF0000","#BF0000","#AF0000","#9F0000","#8F0000","#800000"]},
 "title":{"font":"Lato","fontSize":39,"fontWeight":"bold","lineHeight":42,"baseline":"alphabetic","offset":34,"anchor":"middle","frame":"group","color":"black"},
 "axis":{"labelFont":"Liberation Sans","labelColor":"black","grid":false,"domain":false,"labelOverlap":false},
 "legend":{"orient":"none","legendX":115,"legendY":116,"labelFont":"Lato","labelFontSize":28,"labelColor":"black","labelLimit":400,"symbolSize":900,"symbolType":"stroke","rowPadding":7,"padding":0,"labelOffset":6}
}
}
